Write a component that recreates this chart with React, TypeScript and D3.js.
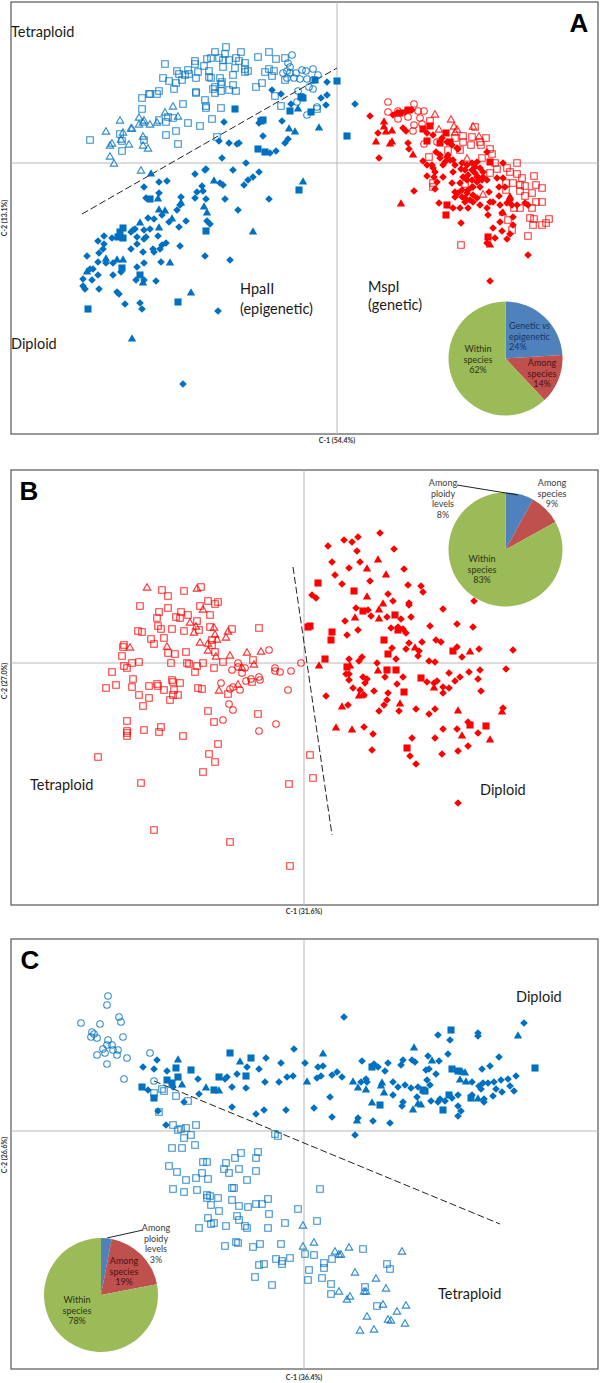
import * as d3 from 'd3';

const BLUE = '#0070c0';
const RED = '#ff0000';
const PIE_COLORS = ['#4f81bd', '#c0504d', '#9bbb59'];

// scores as [C-1, C-2], one unit = one pixel away from the axes
const aBlueOpenSquares = [[-111,116],[-122,111],[-112,109],[-96,111],[-79,106],[-68,111],[-61,104],[-52,105],[-172,99],[-142,102],[-142,99],[-130,104],[-126,105],[-118,105],[-114,103],[-108,103],[-101,105],[-98,102],[-92,100],[-133,97],[-114,96],[-102,95],[-92,94],[-89,92],[-92,91],[-160,92],[-149,93],[-139,91],[-128,92],[-158,89],[-152,88],[-148,89],[-104,88],[-72,91],[-68,94],[-63,92],[-65,87],[-174,85],[-168,82],[-161,80],[-155,83],[-141,85],[-128,86],[-126,85],[-117,85],[-115,81],[-116,79],[-104,78],[-75,80],[-81,76],[-52,83],[-163,74],[-124,74],[-122,76],[-116,72],[-122,70],[-108,73],[-101,72],[-141,71],[-141,70],[-178,72],[-188,69],[-187,69],[-180,69],[-195,65],[-132,63],[-62,67],[-195,54],[-154,59],[-131,57],[-131,55],[-116,55],[-56,57],[-20,54],[-169,46],[-164,45],[-178,43],[-171,41],[-149,40],[-125,44],[-137,37],[-161,32],[-171,28],[-217,29],[-215,22],[-193,23],[-247,23],[-159,19],[-120,26],[-215,12]];
const aBlueOpenTriangles = [[-217,42],[-231,31],[-225,19],[-227,17],[-216,23],[-214,30],[-208,18],[-206,34],[-205,34],[-198,45],[-193,42],[-198,38],[-194,40],[-187,38],[-180,40],[-172,50],[-164,56],[-159,46],[-194,26],[-194,17],[-189,14],[-227,6],[-223,-1],[-196,-8]];
const aBlueOpenCircles = [[-45,108],[-49,100],[-47,96],[-50,92],[-47,90],[-54,90],[-41,90],[-35,93],[-31,92],[-24,94],[-19,88],[-50,85],[-43,85],[-37,84],[-30,84],[-24,83],[-28,76],[-24,74],[-39,72],[-40,61],[-35,66],[-20,56],[-30,48]];
const aBlueDiamonds = [[18,59],[-10,81],[-65,73],[-56,69],[-16,65],[-10,68],[-11,58],[-46,59],[-113,41],[-78,40],[-55,42],[-74,27],[-118,22],[-108,20],[-100,19],[-98,20],[-49,24],[-52,20],[-61,12],[-67,10],[-115,5],[-91,0],[-131,-6],[-132,-7],[-104,-7],[-78,-9],[-84,-14],[-89,-17],[-93,-22],[-142,-11],[-170,-18],[-178,-19],[-193,-24],[-135,-23],[-140,-29],[-134,-28],[-117,-20],[-114,-22],[-178,-30],[-156,-34],[-68,-36],[-112,-36],[-131,-36],[-142,-35],[-191,-35],[-99,-47],[-160,-47],[-157,-42],[-175,-52],[-189,-55],[-183,-56],[-168,-59],[-151,-58],[-130,-58],[-127,-61],[-158,-64],[-187,-66],[-204,-67],[-202,-66],[-193,-67],[-206,-69],[-179,-73],[-191,-74],[-193,-76],[-200,-74],[-233,-73],[-239,-78],[-225,-75],[-233,-81],[-234,-86],[-200,-81],[-206,-86],[-171,-80],[-175,-82],[-157,-83],[-184,-86],[-177,-86],[-183,-89],[-194,-89],[-250,-93],[-238,-90],[-132,-93],[-107,-97],[-239,-99],[-231,-100],[-224,-100],[-193,-100],[-176,-99],[-200,-104],[-244,-106],[-247,-106],[-239,-112],[-224,-112],[-216,-109],[-245,-117],[-254,-116],[-254,-123],[-252,-126],[-238,-126],[-201,-117],[-193,-117],[-181,-118],[-220,-129],[-218,-131],[-212,-141],[-197,-140],[-195,-146],[-119,-148],[-154,-221]];
const aBlueSquares = [[0,82],[10,27],[-102,54],[-47,52],[-36,66],[-34,65],[-26,51],[-22,83],[-74,43],[-76,42],[-79,14],[-72,11],[-38,-27],[-187,-36],[-214,-65],[-217,-69],[-219,-74],[-214,-75],[-131,-68],[-215,-105],[-197,-112],[-159,-139],[-249,-146]];
const aBlueTriangles = [[-48,34],[-42,31],[-18,35],[-39,54],[-186,-11],[-123,-18],[-34,-19],[-179,-36],[-133,-44],[-156,-40],[-178,-47],[-172,-48],[-130,-50],[-165,-56],[-197,-60],[-178,-65],[-84,-69],[-231,-96],[-220,-97],[-214,-97],[-167,-100],[-250,-109],[-194,-120],[-146,-130],[-205,-176]];

const aRedOpenCircles = [[51,61],[51,51],[61,52],[61,44],[71,46],[77,59],[81,52],[87,52],[83,45],[77,38],[76,32],[85,39],[100,21],[87,19]];
const aRedOpenTriangles = [[98,48],[114,43],[117,36],[136,36],[102,33],[120,33],[118,30],[142,26],[130,4],[146,-32]];
const aRedOpenSquares = [[93,42],[138,36],[126,27],[135,26],[149,25],[118,25],[143,21],[144,18],[126,21],[134,18],[153,14],[155,9],[111,13],[123,13],[92,6],[145,5],[158,0],[180,0],[160,-6],[170,-5],[173,-9],[153,-10],[180,-11],[197,-13],[169,-20],[176,-20],[185,-15],[183,-22],[188,-23],[199,-22],[205,-25],[183,-28],[195,-30],[188,-33],[169,-27],[128,-21],[96,-20],[96,-24],[199,-39],[205,-39],[195,-45],[183,-45],[177,-45],[193,-55],[197,-56],[212,-56],[209,-60],[205,-62],[196,-62],[175,-67],[191,-73],[124,-82],[171,-57]];
const aRedDiamonds = [[33,47],[41,30],[42,5],[66,35],[69,32],[71,20],[72,14],[86,2],[90,-2],[99,11],[96,-5],[90,-13],[97,-14],[106,-14],[100,-19],[98,-26],[77,-28],[110,6],[106,-2],[116,-9],[124,-6],[130,-2],[138,-4],[131,-12],[138,-10],[146,-14],[150,-17],[140,-19],[135,-24],[115,-20],[123,-20],[118,-29],[130,-30],[136,-32],[128,-35],[133,-37],[102,-40],[116,-45],[123,-45],[131,-45],[143,-42],[153,-39],[163,-42],[170,-40],[180,-42],[191,-42],[162,-33],[152,-29],[162,-24],[166,-15],[166,0],[150,11],[121,14],[150,-45],[151,-52],[165,-50],[176,-54],[163,-59],[176,-62],[124,-60],[156,-65],[165,-68],[173,-71],[158,-75],[170,-76],[150,-80],[191,-92],[153,-118],[126,-14],[141,-14],[135,-17],[145,-17],[128,-7],[125,-34],[131,-27],[140,-35],[143,-24],[121,-30],[103,5],[113,3],[90,30],[96,28],[105,25],[110,21],[115,18],[120,15],[103,8],[111,8],[116,3],[108,1],[118,-2],[125,0],[135,0],[140,1],[135,-7],[143,-5],[140,-14],[146,-9],[130,-17],[136,-24],[125,-27],[118,-34],[128,-39],[136,-39],[160,-15],[168,-24],[156,-39],[173,-37],[175,-42],[188,-40],[98,-9],[95,-2],[60,50],[68,51],[56,48],[75,53]];
const aRedSquares = [[71,53],[63,50],[86,34],[93,37],[90,22],[103,20],[109,30],[113,21],[153,1],[110,-42],[109,-52],[151,-74]];
const aRedTriangles = [[47,41],[47,36],[49,31],[55,32],[39,21],[53,19],[55,21],[76,8],[64,-41],[173,-34],[153,-82],[166,-50]];

const bOpenSquares = [[-142,73],[-136,67],[-120,72],[-103,76],[-164,57],[-136,55],[-145,51],[-147,45],[-128,46],[-124,45],[-123,51],[-116,48],[-104,57],[-96,62],[-89,59],[-86,61],[-94,48],[-107,42],[-146,37],[-143,34],[-132,34],[-120,32],[-105,33],[-94,36],[-72,34],[-45,35],[-166,32],[-162,31],[-153,24],[-150,19],[-140,25],[-180,18],[-181,16],[-136,10],[-129,9],[-118,11],[-92,23],[-92,18],[-89,11],[-182,7],[-180,-3],[-177,-5],[-172,0],[-165,1],[-133,0],[-117,0],[-115,-1],[-107,-3],[-101,0],[-90,-5],[-109,-9],[-81,1],[-51,3],[-192,-9],[-171,-16],[-198,-25],[-188,-22],[-172,-24],[-155,-23],[-147,-21],[-146,-23],[-140,-27],[-132,-17],[-131,-19],[-124,-20],[-130,-27],[-106,-25],[-102,-26],[-165,-32],[-155,-35],[-131,-32],[-126,-32],[-134,-37],[-161,-43],[-76,-31],[-52,-19],[-96,-48],[-46,-51],[-90,-59],[-177,-58],[-177,-68],[-177,-70],[-177,-73],[-160,-67],[-143,-64],[-145,-69],[-121,-73],[-86,-81],[-95,-91],[-89,-99],[-101,-109],[-206,-94],[-163,-120],[6,-92],[9,-115],[-15,-121],[-150,-167],[-74,-179],[-14,-203]];
const bOpenTriangles = [[-157,75],[-107,74],[-101,53],[-114,40],[-108,36],[-110,30],[-90,35],[-89,28],[-87,23],[-76,31],[-78,25],[-104,20],[-174,15],[-137,16],[-96,19],[-96,12],[-88,6],[-74,7],[-57,10],[-43,11],[-50,-2],[-85,-28],[-66,-22],[-62,-5]];
const bOpenCircles = [[-35,13],[-66,0],[-66,-4],[-59,-5],[-62,-10],[-72,-7],[-29,-5],[-29,-8],[-24,-9],[-13,-8],[-3,0],[-53,-16],[-58,-18],[-45,-14],[-44,-17],[-83,-20],[-74,-26],[-71,-24],[-64,-27],[-16,-27],[-75,-41],[-71,-47],[-81,-57],[-28,-61],[-45,-68]];
const bDiamonds = [[76,130],[54,126],[40,123],[48,121],[24,117],[53,112],[90,114],[28,101],[56,101],[45,95],[100,94],[31,88],[66,82],[38,79],[104,78],[117,77],[119,71],[84,69],[8,68],[12,65],[89,62],[105,60],[105,58],[170,62],[139,54],[52,55],[64,53],[67,47],[83,46],[107,46],[97,44],[41,42],[54,33],[43,28],[87,35],[94,36],[99,34],[102,30],[126,37],[153,39],[169,36],[132,23],[137,21],[118,21],[105,20],[88,15],[102,14],[115,12],[114,7],[153,16],[175,14],[209,13],[158,6],[45,4],[58,6],[55,2],[92,4],[73,0],[125,2],[131,1],[202,-6],[165,-9],[176,-7],[145,-10],[156,-14],[174,-16],[151,-18],[42,-11],[45,-11],[45,-17],[59,-14],[63,-16],[61,-20],[81,-14],[99,-14],[93,-21],[123,-19],[130,-20],[133,-18],[139,-24],[145,-25],[139,-30],[49,-25],[56,-27],[60,-32],[70,-28],[84,-30],[177,-28],[22,-33],[44,-42],[83,-37],[80,-42],[75,-48],[95,-48],[112,-46],[131,-46],[125,-51],[199,-45],[60,-64],[69,-71],[108,-75],[131,-75],[139,-66],[153,-66],[164,-59],[174,-70],[164,-83],[154,-88],[138,-91],[68,-87],[106,-93],[112,-101],[154,-140]];
const bSquares = [[14,80],[50,72],[59,52],[91,48],[6,37],[4,36],[28,31],[27,23],[80,23],[84,9],[149,12],[21,4],[43,-4],[83,-7],[92,-7],[117,-15],[100,-29],[166,-62],[182,-63],[103,-85],[94,33]];
const bTriangles = [[74,103],[63,94],[82,88],[63,66],[79,59],[75,53],[51,45],[75,44],[111,15],[166,11],[15,-3],[46,-3],[74,-8],[130,-25],[55,-33],[59,-32],[38,-44],[96,-41],[154,-48],[198,-49],[32,-65],[48,-67],[158,-73],[186,-77]];

const cOpenSquares = [[-142,42],[-140,40],[-150,38],[-128,35],[-116,30],[-145,19],[-131,6],[-126,1],[-123,2],[-118,3],[-108,6],[-113,-4],[-120,-7],[-109,-14],[-132,-17],[-122,-17],[-29,-3],[-26,-5],[-63,-22],[-46,-21],[-69,-27],[-48,-27],[-78,-32],[-101,-31],[-97,-31],[-135,-35],[-80,-38],[-65,-38],[-48,-40],[-127,-41],[-102,-42],[-75,-42],[-108,-47],[-118,-49],[-96,-48],[-57,-49],[-131,-58],[-120,-61],[-107,-59],[-72,-57],[-70,-57],[16,-58],[-97,-64],[-94,-65],[-97,-67],[-86,-67],[-72,-69],[-36,-68],[-93,-74],[-65,-75],[-56,-76],[-48,-73],[-42,-73],[-6,-78],[-85,-80],[-35,-83],[-67,-85],[-96,-87],[-65,-89],[-90,-92],[-93,-93],[-78,-95],[-59,-95],[-57,-97],[-105,-97],[-36,-97],[-19,-92],[13,-90],[-68,-111],[-66,-112],[-44,-113],[-23,-113],[-79,-115],[-51,-116],[1,-123],[10,-124],[59,-118],[-28,-128],[-22,-130],[-22,-133],[-14,-127],[28,-128],[20,-132],[20,-137],[-45,-134],[-40,-133],[5,-139],[4,-149],[-49,-146],[-32,-154],[18,-147],[27,-153],[27,-163],[83,-133],[86,-138],[61,-156],[73,-175]];
const cOpenTriangles = [[-1,-95],[-1,-116],[10,-112],[31,-121],[45,-117],[35,-124],[37,-124],[98,-121],[51,-142],[72,-148],[82,-158],[35,-161],[46,-166],[43,-169],[60,-161],[62,-161],[79,-174],[102,-175],[93,-181],[63,-186],[84,-189],[87,-190],[101,-193],[56,-200],[70,-199]];
const cOpenCircles = [[-196,135],[-197,126],[-223,108],[-204,107],[-185,114],[-183,109],[-212,99],[-210,97],[-213,94],[-207,93],[-181,94],[-196,91],[-197,86],[-192,86],[-201,82],[-199,78],[-191,81],[-186,81],[-187,76],[-207,76],[-177,73],[-197,67],[-154,78],[-180,52],[-150,50]];
const cDiamonds = [[-147,71],[-161,64],[-150,62],[-137,60],[-106,52],[-77,54],[-79,52],[-67,57],[-57,64],[-45,62],[-38,73],[-23,68],[-10,82],[-17,54],[-11,55],[-39,49],[-25,49],[-72,44],[-58,43],[-105,37],[-120,29],[-131,44],[-156,41],[-72,24],[-48,17],[-40,21],[-18,21],[-146,20],[-138,6],[40,114],[220,108],[134,96],[174,98],[174,95],[146,91],[144,77],[124,75],[195,74],[135,70],[108,71],[111,69],[99,71],[97,66],[84,68],[58,70],[1,68],[14,64],[19,65],[74,64],[70,67],[81,60],[186,65],[178,62],[122,61],[125,62],[132,57],[33,59],[28,56],[13,53],[17,55],[38,54],[62,52],[63,49],[57,49],[89,49],[101,46],[94,44],[107,43],[114,44],[123,51],[126,46],[168,49],[212,55],[204,52],[197,51],[190,49],[184,48],[179,48],[175,45],[177,42],[206,45],[210,40],[192,42],[198,39],[189,35],[180,32],[180,29],[168,36],[154,36],[148,33],[136,32],[141,30],[134,29],[127,30],[113,34],[99,29],[98,25],[154,25],[157,20],[154,15],[89,36],[26,34],[10,23],[28,14],[54,13],[69,10],[86,8],[51,-4]];
const cSquares = [[-74,78],[-53,73],[-128,63],[-113,61],[-126,54],[-137,51],[-85,54],[-58,55],[-162,44],[-150,33],[-90,41],[-132,48],[147,101],[231,63],[68,64],[148,62],[154,60],[119,41],[121,40],[145,36],[167,33],[76,26],[139,21]];
const cTriangles = [[-126,71],[-64,69],[-122,46],[-98,43],[-85,40],[19,77],[110,83],[214,95],[128,70],[3,49],[49,49],[54,43],[62,41],[78,48],[77,45],[80,38],[68,28],[114,27],[117,26],[109,21],[174,32],[161,58],[158,59],[156,51],[162,49],[53,10]];

const pieValuesA = [24, 14, 62];
const pieValuesB = [8, 9, 83];
const pieValuesC = [3, 19, 78];

const squarePath = d3.symbol().type(d3.symbolSquare);
const circlePath = d3.symbol().type(d3.symbolCircle);
const trianglePath = d3.symbol().type(d3.symbolTriangle);

type Pair = number[];
type Scale = d3.ScaleLinear<number, number>;

function Marks({ pts, kind, color, x, y }: { pts: Pair[]; kind: string; color: string; x: Scale; y: Scale }) {
  const open = kind.startsWith('open');
  let d = '';
  let rotate = 0;
  if (kind === 'openSquare') d = squarePath.size(42)()!;
  if (kind === 'openTriangle') d = trianglePath.size(24)()!;
  if (kind === 'openCircle') d = circlePath.size(34)()!;
  if (kind === 'square') d = squarePath.size(50)()!;
  if (kind === 'triangle') d = trianglePath.size(30)()!;
  if (kind === 'diamond') {
    d = squarePath.size(29)()!;
    rotate = 45;
  }
  return (
    <g fill={open ? 'none' : color} stroke={open ? color : 'none'} strokeWidth={1.1} strokeOpacity={open ? 0.8 : 1}>
      {pts.map((p, i) => (
        <path key={i} d={d} transform={`translate(${x(p[0])},${y(p[1])}) rotate(${rotate})`} />
      ))}
    </g>
  );
}

function Pie({ cx, cy, values }: { cx: number; cy: number; values: number[] }) {
  const arcs = d3.pie<number>().sort(null)(values);
  const arc = d3.arc<d3.PieArcDatum<number>>().innerRadius(0).outerRadius(57);
  return (
    <g transform={`translate(${cx},${cy})`}>
      {arcs.map((a, i) => (
        <path key={i} d={arc(a)!} fill={PIE_COLORS[i]} />
      ))}
    </g>
  );
}

function Lines({ tx, ty, lines, fill = '#3b3b3b' }: any) {
  return (
    <text fontFamily="Lato" fontSize={9} textAnchor="middle" fill={fill}>
      {lines.map((l: any, i: number) => (
        <tspan key={i} x={tx} y={ty + i * 10.5}>{l}</tspan>
      ))}
    </text>
  );
}

function Frame({ left, top, right, bottom, cx, cy, xLabel, yLabel, xLabelY, yLabelY, letter, lx, ly }: any) {
  return (
    <g>
      <rect x={left} y={top} width={right - left} height={bottom - top} fill="#fff" stroke="#555" strokeWidth={1.2} />
      <line x1={cx} x2={cx} y1={top} y2={bottom} stroke="#b8b8b8" />
      <line x1={left} x2={right} y1={cy} y2={cy} stroke="#b8b8b8" />
      <text x={cx} y={xLabelY} textAnchor="middle" fontFamily="Lato" fontWeight="bold" fontSize={7} fill="#333">{xLabel}</text>
      <text transform={`translate(7,${yLabelY}) rotate(-90)`} textAnchor="middle" fontFamily="Lato" fontWeight="bold" fontSize={7} fill="#333">{yLabel}</text>
      <text x={lx} y={ly} textAnchor="middle" fontFamily="Liberation Sans" fontWeight="bold" fontSize={26} fill="#000">{letter}</text>
    </g>
  );
}

const panelA = { left: 11, top: 2, right: 598, bottom: 434, cx: 337, cy: 163 };
const panelB = { left: 11, top: 470, right: 598, bottom: 905, cx: 304, cy: 663 };
const panelC = { left: 11, top: 939, right: 598, bottom: 1369, cx: 304, cy: 1131 };

function scales(p: typeof panelA): [Scale, Scale] {
  const x = d3.scaleLinear().domain([p.left - p.cx, p.right - p.cx]).range([p.left, p.right]);
  const y = d3.scaleLinear().domain([p.cy - p.bottom, p.cy - p.top]).range([p.bottom, p.top]);
  return [x, y];
}

export default function App() {
  const [ax, ay] = scales(panelA);
  const [bx, by] = scales(panelB);
  const [cx, cy] = scales(panelC);
  const big = { fontFamily: 'Lato', fontSize: 14.5, fill: '#1a1a1a' };

  return (
    <svg width={600} height={1383} style={{ position: 'absolute', left: 0, top: 0, background: '#fff' }}>
      <Frame {...panelA} xLabel="C-1 (54.4%)" yLabel="C-2 (13.1%)" xLabelY={443} yLabelY={218} letter="A" lx={579} ly={32} />
      <line x1={ax(-255)} y1={ay(-51)} x2={ax(0)} y2={ay(95)} stroke="#222" strokeDasharray="7 3" />
      <Marks pts={aBlueOpenSquares} kind="openSquare" color={BLUE} x={ax} y={ay} />
      <Marks pts={aBlueOpenTriangles} kind="openTriangle" color={BLUE} x={ax} y={ay} />
      <Marks pts={aBlueOpenCircles} kind="openCircle" color={BLUE} x={ax} y={ay} />
      <Marks pts={aBlueDiamonds} kind="diamond" color={BLUE} x={ax} y={ay} />
      <Marks pts={aBlueSquares} kind="square" color={BLUE} x={ax} y={ay} />
      <Marks pts={aBlueTriangles} kind="triangle" color={BLUE} x={ax} y={ay} />
      <Marks pts={aRedOpenSquares} kind="openSquare" color={RED} x={ax} y={ay} />
      <Marks pts={aRedOpenTriangles} kind="openTriangle" color={RED} x={ax} y={ay} />
      <Marks pts={aRedOpenCircles} kind="openCircle" color={RED} x={ax} y={ay} />
      <Marks pts={aRedDiamonds} kind="diamond" color={RED} x={ax} y={ay} />
      <Marks pts={aRedSquares} kind="square" color={RED} x={ax} y={ay} />
      <Marks pts={aRedTriangles} kind="triangle" color={RED} x={ax} y={ay} />
      <text x={11} y={37} {...big}>Tetraploid</text>
      <text x={11} y={349} {...big}>Diploid</text>
      <text x={240} y={294} {...big}>HpaII</text>
      <text x={240} y={314} {...big}>(epigenetic)</text>
      <text x={368} y={292} {...big}>MspI</text>
      <text x={368} y={310} {...big}>(genetic)</text>
      <Pie cx={505.5} cy={358.5} values={pieValuesA} />
      <text fontFamily="Lato" fontSize={9} fill="#17365d">
        <tspan x={509} y={329}>Genetic <tspan fontStyle="italic">vs</tspan></tspan>
        <tspan x={509} y={339.5}>epigenetic</tspan>
        <tspan x={509} y={350}>{pieValuesA[0]}%</tspan>
      </text>
      <Lines tx={542} ty={366} lines={['Among', 'species', `${pieValuesA[1]}%`]} fill="#4a1210" />
      <Lines tx={478} ty={352} lines={['Within', 'species', `${pieValuesA[2]}%`]} fill="#2a3312" />

      <Frame {...panelB} xLabel="C-1 (31.6%)" yLabel="C-2 (27.0%)" xLabelY={914} yLabelY={681} letter="B" lx={29} ly={500} />
      <line x1={bx(-11)} y1={by(96)} x2={bx(28)} y2={by(-172)} stroke="#222" strokeDasharray="7 3" />
      <Marks pts={bOpenSquares} kind="openSquare" color={RED} x={bx} y={by} />
      <Marks pts={bOpenTriangles} kind="openTriangle" color={RED} x={bx} y={by} />
      <Marks pts={bOpenCircles} kind="openCircle" color={RED} x={bx} y={by} />
      <Marks pts={bDiamonds} kind="diamond" color={RED} x={bx} y={by} />
      <Marks pts={bSquares} kind="square" color={RED} x={bx} y={by} />
      <Marks pts={bTriangles} kind="triangle" color={RED} x={bx} y={by} />
      <text x={30} y={790} {...big}>Tetraploid</text>
      <text x={480} y={795} {...big}>Diploid</text>
      <Pie cx={505.5} cy={549.5} values={pieValuesB} />
      <line x1={457} y1={485} x2={518} y2={495} stroke="#222" />
      <Lines tx={443} ty={486} lines={['Among', 'ploidy', 'levels', `${pieValuesB[0]}%`]} />
      <Lines tx={552} ty={486} lines={['Among', 'species', `${pieValuesB[1]}%`]} />
      <Lines tx={482} ty={562} lines={['Within', 'species', `${pieValuesB[2]}%`]} fill="#2a3312" />

      <Frame {...panelC} xLabel="C-1 (36.4%)" yLabel="C-2 (26.6%)" xLabelY={1380} yLabelY={1155} letter="C" lx={30} ly={969} />
      <line x1={cx(-150)} y1={cy(50)} x2={cx(196)} y2={cy(-93)} stroke="#222" strokeDasharray="7 3" />
      <Marks pts={cOpenSquares} kind="openSquare" color={BLUE} x={cx} y={cy} />
      <Marks pts={cOpenTriangles} kind="openTriangle" color={BLUE} x={cx} y={cy} />
      <Marks pts={cOpenCircles} kind="openCircle" color={BLUE} x={cx} y={cy} />
      <Marks pts={cDiamonds} kind="diamond" color={BLUE} x={cx} y={cy} />
      <Marks pts={cSquares} kind="square" color={BLUE} x={cx} y={cy} />
      <Marks pts={cTriangles} kind="triangle" color={BLUE} x={cx} y={cy} />
      <text x={516} y={1002} {...big}>Diploid</text>
      <text x={438} y={1299} {...big}>Tetraploid</text>
      <Pie cx={101} cy={1295} values={pieValuesC} />
      <line x1={143} y1={1230} x2={107} y2={1238} stroke="#222" />
      <Lines tx={156} ty={1231} lines={['Among', 'ploidy', 'levels', `${pieValuesC[0]}%`]} />
      <Lines tx={124} ty={1264} lines={['Among', 'species', `${pieValuesC[1]}%`]} fill="#4a1210" />
      <Lines tx={77} ty={1303} lines={['Within', 'species', `${pieValuesC[2]}%`]} fill="#2a3312" />
    </svg>
  );
}
